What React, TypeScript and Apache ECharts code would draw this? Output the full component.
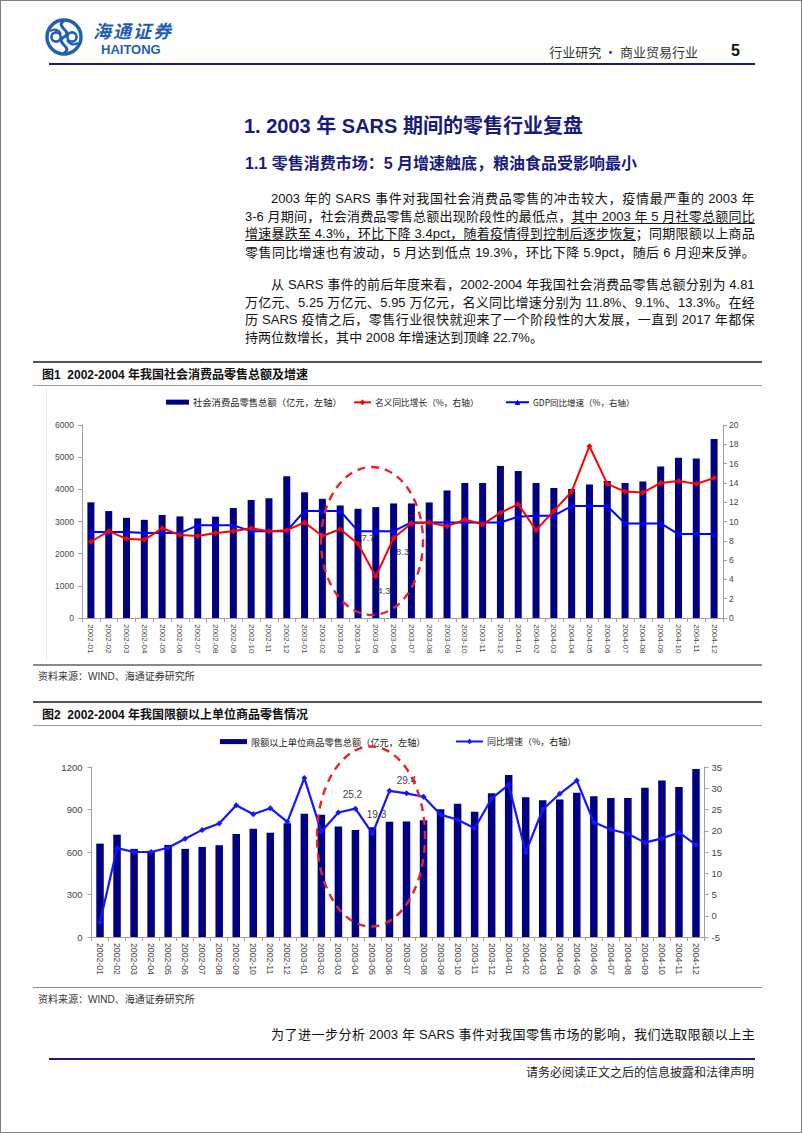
import React, { useEffect, useRef } from 'react';
import * as echarts from 'echarts';

// ---------- DATA ----------
const months = [
  '2002-01', '2002-02', '2002-03', '2002-04', '2002-05', '2002-06', '2002-07', '2002-08', '2002-09', '2002-10', '2002-11', '2002-12',
  '2003-01', '2003-02', '2003-03', '2003-04', '2003-05', '2003-06', '2003-07', '2003-08', '2003-09', '2003-10', '2003-11', '2003-12',
  '2004-01', '2004-02', '2004-03', '2004-04', '2004-05', '2004-06', '2004-07', '2004-08', '2004-09', '2004-10', '2004-11', '2004-12',
];
// Fig 1
const retailTotal = [
  3596, 3324, 3114, 3052, 3202, 3158, 3096, 3150, 3419, 3670, 3722, 4404,
  3908, 3706, 3498, 3395, 3447, 3561, 3561, 3592, 3965, 4194, 4194, 4723,
  4568, 4194, 4038, 4007, 4152, 4256, 4194, 4246, 4713, 4983, 4962, 5564,
];
const nominalGrowth = [
  7.9, 9.0, 8.2, 8.1, 9.3, 8.6, 8.5, 8.8, 9.0, 9.3, 9.0, 9.1,
  9.9, 8.5, 9.2, 7.7, 4.3, 8.3, 9.8, 9.9, 9.5, 10.2, 9.7, 10.9,
  11.8, 9.1, 11.1, 13.1, 17.8, 13.9, 13.1, 13.0, 14.0, 14.2, 13.9, 14.5,
];
const gdpGrowth = [
  8.9, 8.9, 8.9, 8.8, 8.8, 8.8, 9.6, 9.6, 9.6, 9.0, 9.0, 9.0,
  11.1, 11.1, 11.1, 9.0, 9.0, 9.0, 9.9, 9.9, 9.9, 9.9, 9.9, 9.9,
  10.5, 10.6, 10.6, 11.6, 11.6, 11.6, 9.8, 9.8, 9.8, 8.7, 8.7, 8.7,
];
// Fig 2
const aboveQuotaSales = [
  659, 722, 622, 608, 650, 622, 636, 648, 727, 764, 736, 803,
  870, 863, 780, 756, 775, 814, 816, 825, 902, 940, 884, 1014,
  1144, 986, 965, 970, 1019, 993, 981, 981, 1053, 1105, 1058, 1186,
];
const aboveQuotaGrowth = [
  -1.5, 15.9, 15.0, 15.0, 16.0, 18.1, 20.2, 21.7, 26.0, 23.9, 25.3, 22.1,
  32.4, 19.8, 24.3, 25.2, 19.3, 29.4, 28.8, 28.0, 23.8, 22.6, 20.6, 27.6,
  30.8, 14.9, 25.0, 28.7, 31.8, 22.0, 20.3, 19.3, 17.2, 18.2, 19.6, 16.7,
];

const S1_BAR = '社会消费品零售总额（亿元，左轴）';
const S1_RED = '名义同比增长（%，右轴）';
const S1_BLUE = 'GDP同比增速（%，右轴）';
const S2_BAR = '限额以上单位商品零售总额（亿元，左轴）';
const S2_LINE = '同比增速（%，右轴）';

// ---------- STYLE ----------
const LAT = "'Liberation Sans', Arial, 'Noto Sans CJK SC', sans-serif";
const CJK = "'Noto Sans CJK SC', 'Liberation Sans', sans-serif";
const NAVY_BAR = '#000080';
const HEAD_BLUE = '#1a1a7c';

const red1Label: Record<string, any> = {
  '2003-04': { position: 'top', offset: [10, 7] },
  '2003-05': { position: 'bottom', offset: [8, 1] },
  '2003-06': { position: 'bottom', offset: [9, 1] },
};
const line2Label: Record<string, any> = {
  '2003-04': { position: 'top', offset: [-3, -1] },
  '2003-05': { position: 'top', offset: [4, -6] },
  '2003-06': { position: 'top', offset: [17, 3] },
};

const plain = (v: number) => String(v);

function axisCommon(fontSize: number, margin: number) {
  return {
    axisLine: { show: true, lineStyle: { color: '#a0a0a0', width: 1 } },
    axisTick: { show: true, length: 4, lineStyle: { color: '#a0a0a0' } },
    splitLine: { show: false },
    axisLabel: { fontSize, color: '#444', fontFamily: LAT, margin, formatter: plain },
  };
}

function xAxisCfg(fontSize: number) {
  return {
    type: 'category',
    data: months,
    boundaryGap: true,
    axisLine: { lineStyle: { color: '#a0a0a0' } },
    axisTick: { show: true, alignWithLabel: false, interval: 0, length: 4, lineStyle: { color: '#a0a0a0' } },
    axisLabel: { rotate: -90, interval: 0, fontSize, color: '#444', fontFamily: LAT, margin: 6 },
  };
}

function legendCfg(name: string, left: number, top: number, w: number, h: number, fs: number, icon?: string) {
  const l: any = {
    data: [name], left, top, padding: 0, itemWidth: w, itemHeight: h, itemGap: 0,
    textStyle: { fontSize: fs, color: '#222', fontFamily: CJK, padding: [0, 0, 0, -1] },
  };
  if (icon) l.icon = icon;
  return l;
}

const option1: any = {
  animation: false,
  grid: { left: 82, right: 79, top: 35, bottom: 44 },
  legend: [
    legendCfg(S1_BAR, 166, 7.5, 23, 5, 9.3, 'rect'),
    legendCfg(S1_RED, 353, 8, 17, 7, 8.7),
    legendCfg(S1_BLUE, 505, 8, 23, 7, 8.5),
  ],
  xAxis: xAxisCfg(8),
  yAxis: [
    { type: 'value', min: 0, max: 6000, interval: 1000, ...axisCommon(8.5, 8) },
    { type: 'value', position: 'right', min: 0, max: 20, interval: 2, ...axisCommon(8.5, 6) },
  ],
  series: [
    { name: S1_BAR, type: 'bar', data: retailTotal, barWidth: 7, itemStyle: { color: NAVY_BAR } },
    {
      name: S1_BLUE, type: 'line', yAxisIndex: 1, data: gdpGrowth, symbol: 'triangle', symbolSize: 6,
      itemStyle: { color: '#0000ff' }, lineStyle: { color: '#0000ff', width: 2 },
    },
    {
      name: S1_RED, type: 'line', yAxisIndex: 1, symbol: 'diamond', symbolSize: 6,
      itemStyle: { color: '#ff0000' }, lineStyle: { color: '#ff0000', width: 2 },
      data: nominalGrowth.map((v, i) => {
        const cfg = red1Label[months[i]];
        return cfg
          ? { value: v, label: { show: true, ...cfg, fontSize: 9.5, color: '#444', fontFamily: LAT } }
          : v;
      }),
    },
  ],
  graphic: [
    {
      type: 'ellipse', silent: true, z: 100,
      shape: { cx: 372, cy: 151, rx: 51, ry: 74 },
      style: { fill: 'none', stroke: '#e8222a', lineWidth: 2.4, lineDash: [8, 6] },
    },
  ],
};

const option2: any = {
  animation: false,
  grid: { left: 91.5, right: 97.5, top: 39, bottom: 49 },
  legend: [
    legendCfg(S2_BAR, 220, 9, 27, 5, 9.2, 'rect'),
    legendCfg(S2_LINE, 455, 9, 27, 7, 9),
  ],
  xAxis: xAxisCfg(8.7),
  yAxis: [
    { type: 'value', min: 0, max: 1200, interval: 300, ...axisCommon(9.5, 9) },
    { type: 'value', position: 'right', min: -5, max: 35, interval: 5, ...axisCommon(9.5, 7) },
  ],
  series: [
    { name: S2_BAR, type: 'bar', data: aboveQuotaSales, barWidth: 7.5, itemStyle: { color: NAVY_BAR } },
    {
      name: S2_LINE, type: 'line', yAxisIndex: 1, symbol: 'diamond', symbolSize: 6,
      itemStyle: { color: '#1515ff' }, lineStyle: { color: '#1515ff', width: 2.2 },
      data: aboveQuotaGrowth.map((v, i) => {
        const cfg = line2Label[months[i]];
        return cfg
          ? { value: v, label: { show: true, ...cfg, fontSize: 10, color: '#444', fontFamily: LAT } }
          : v;
      }),
    },
  ],
  graphic: [
    {
      type: 'ellipse', silent: true, z: 100,
      shape: { cx: 371, cy: 108.5, rx: 54, ry: 90 },
      style: { fill: 'none', stroke: '#e8222a', lineWidth: 2.4, lineDash: [8, 6] },
    },
  ],
};

function EChart({ option, style }: { option: any; style: React.CSSProperties }) {
  const ref = useRef<HTMLDivElement>(null);
  useEffect(() => {
    const chart = echarts.init(ref.current as HTMLDivElement, null, { renderer: 'svg' });
    chart.setOption(option);
    return () => chart.dispose();
  }, []);
  return <div ref={ref} style={style} />;
}

// ---------- TEXT HELPERS ----------
function tokenize(s: string): string[] {
  return s.match(/[\u2E80-\uFFFF]|[^\u2E80-\uFFFF]+/g) || [];
}

function JLine({ x, cy, w, text, justify = true }: { x: number; cy: number; w: number; text: string; justify?: boolean }) {
  return (
    <div
      style={{
        position: 'absolute', left: x, top: cy - 9, width: w, height: 18, lineHeight: '18px',
        display: 'flex', justifyContent: justify ? 'space-between' : 'flex-start',
        fontSize: 13, fontFamily: LAT, color: '#111', whiteSpace: 'pre',
      }}
    >
      {tokenize(text).map((t, i) => (
        <span key={i}>{t}</span>
      ))}
    </div>
  );
}

function T({ x, cy, size, text, style, right }: { x: number; cy: number; size: number; text: string; style?: React.CSSProperties; right?: boolean }) {
  const lh = Math.round(size * 1.2);
  const pos: React.CSSProperties = right ? { right: 802 - x } : { left: x };
  return (
    <div style={{ position: 'absolute', top: cy - lh / 2, ...pos, fontSize: size, lineHeight: lh + 'px', whiteSpace: 'pre', fontFamily: LAT, ...style }}>
      {text}
    </div>
  );
}

function Rule({ x1, x2, y, h, color }: { x1: number; x2: number; y: number; h: number; color: string }) {
  return <div style={{ position: 'absolute', left: x1, top: y - h / 2, width: x2 - x1, height: h, background: color }} />;
}

const para1 = [
  '2003 年的 SARS 事件对我国社会消费品零售的冲击较大，疫情最严重的 2003 年',
  '3-6 月期间，社会消费品零售总额出现阶段性的最低点，其中 2003 年 5 月社零总额同比',
  '增速暴跌至 4.3%，环比下降 3.4pct，随着疫情得到控制后逐步恢复；同期限额以上商品',
  '零售同比增速也有波动，5 月达到低点 19.3%，环比下降 5.9pct，随后 6 月迎来反弹。',
];
const para1Y = [199.3, 216.8, 234.4, 252.6];
const para2 = [
  '从 SARS 事件的前后年度来看，2002-2004 年我国社会消费品零售总额分别为 4.81',
  '万亿元、5.25 万亿元、5.95 万亿元，名义同比增速分别为 11.8%、9.1%、13.3%。在经',
  '历 SARS 疫情之后，零售行业很快就迎来了一个阶段性的大发展，一直到 2017 年都保',
  '持两位数增长，其中 2008 年增速达到顶峰 22.7%。',
];
const para2Y = [285, 302.7, 320.2, 337.6];

function Logo() {
  const c = '#1f5fae';
  return (
    <svg width={40} height={40} viewBox="0 0 40 40" style={{ position: 'absolute', left: 44, top: 17 }}>
      <circle cx={20} cy={20} r={17} fill="none" stroke={c} strokeWidth={3.4} />
      <path d="M20 4 C 10 10, 30 14, 20 20 C 10 26, 30 30, 20 36" fill="none" stroke={c} strokeWidth={3} />
      <circle cx={12} cy={20} r={4.6} fill="none" stroke={c} strokeWidth={2.6} />
      <circle cx={28} cy={20} r={4.6} fill="none" stroke={c} strokeWidth={2.6} />
      <path d="M6 14 C 11 11, 15 13, 17 17 M34 26 C 29 29, 25 27, 23 23" fill="none" stroke={c} strokeWidth={2.2} />
    </svg>
  );
}

export default function App() {
  useEffect(() => {
    document.body.style.margin = '0';
  }, []);
  return (
    <div style={{ position: 'absolute', left: 0, top: 0, width: 802, height: 1133, background: '#fff', overflow: 'hidden' }}>
      {/* header */}
      <Logo />
      <T x={93} cy={30} size={18} text="海通证券" style={{ fontFamily: CJK, fontWeight: 700, color: '#1f5fae', letterSpacing: 2, fontStyle: 'italic' }} />
      <T x={101} cy={49.5} size={13} text="HAITONG" style={{ fontWeight: 700, color: '#1f5fae' }} />
      <T x={698} cy={52} size={13} right text="行业研究 · 商业贸易行业" style={{ fontFamily: CJK, color: '#333' }} />
      <T x={731} cy={50} size={16} text="5" style={{ fontWeight: 700, color: '#111' }} />
      <Rule x1={49} x2={755} y={64} h={2} color="#1c1c78" />

      {/* headings */}
      <T x={244} cy={126} size={20} text="1. 2003 年 SARS 期间的零售行业复盘" style={{ fontWeight: 700, color: HEAD_BLUE }} />
      <T x={245} cy={163} size={16} text="1.1 零售消费市场：5 月增速触底，粮油食品受影响最小" style={{ fontWeight: 700, color: HEAD_BLUE }} />

      {/* paragraphs */}
      {para1.map((t, i) => (
        <JLine key={'p1' + i} x={i === 0 ? 271 : 245} w={i === 0 ? 484 : 510} cy={para1Y[i]} text={t} />
      ))}
      <Rule x1={571} x2={755} y={para1Y[1] + 6.5} h={1} color="#111" />
      <Rule x1={245} x2={636} y={para1Y[2] + 6.5} h={1} color="#111" />
      {para2.map((t, i) => (
        <JLine key={'p2' + i} x={i === 0 ? 271 : 245} w={i === 0 ? 484 : 510} cy={para2Y[i]} text={t} justify={i < 3} />
      ))}

      {/* figure 1 */}
      <Rule x1={33} x2={762} y={361.5} h={2} color="#555" />
      <T x={42} cy={375} size={12} text="图1  2002-2004 年我国社会消费品零售总额及增速" style={{ fontWeight: 700, color: '#111' }} />
      <Rule x1={33} x2={762} y={385.5} h={1.5} color="#9a9a9a" />
      <div style={{ position: 'absolute', left: 45.5, top: 388, width: 1, height: 272, background: '#e8e8e8' }} />
      <EChart option={option1} style={{ position: 'absolute', left: 0, top: 390, width: 802, height: 272 }} />
      <Rule x1={33} x2={762} y={665} h={1.5} color="#8a8a8a" />
      <T x={38} cy={676.5} size={10} text="资料来源：WIND、海通证券研究所" style={{ color: '#333' }} />

      {/* figure 2 */}
      <Rule x1={33} x2={762} y={702} h={2} color="#555" />
      <T x={42} cy={715} size={12} text="图2  2002-2004 年我国限额以上单位商品零售情况" style={{ fontWeight: 700, color: '#111' }} />
      <Rule x1={33} x2={762} y={725.5} h={1.5} color="#9a9a9a" />
      <EChart option={option2} style={{ position: 'absolute', left: 0, top: 728, width: 802, height: 258 }} />
      <Rule x1={33} x2={762} y={987.5} h={1.5} color="#8a8a8a" />
      <T x={38} cy={1000} size={10} text="资料来源：WIND、海通证券研究所" style={{ color: '#333' }} />

      {/* following text */}
      <JLine x={271} w={484} cy={1035} text="为了进一步分析 2003 年 SARS 事件对我国零售市场的影响，我们选取限额以上主" />

      {/* footer */}
      <Rule x1={49} x2={755} y={1059} h={2} color="#1c1c78" />
      <T x={754} cy={1072} size={12} right text="请务必阅读正文之后的信息披露和法律声明" style={{ fontFamily: CJK, color: '#222' }} />

      {/* page border */}
      <div style={{ position: 'absolute', left: 0, top: 0, width: 802, height: 1133, boxSizing: 'border-box', border: '1px solid #808080', pointerEvents: 'none' }} />
    </div>
  );
}
